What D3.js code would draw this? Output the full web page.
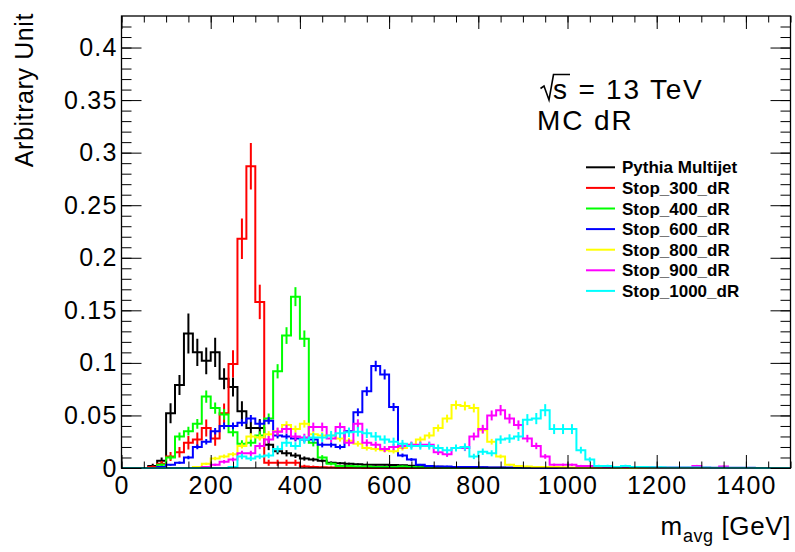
<!DOCTYPE html>
<html>
<head>
<meta charset="utf-8">
<script src="https://cdn.jsdelivr.net/npm/d3@7"></script>
<style>
  html, body { margin: 0; padding: 0; background: #fff; }
  svg { display: block; font-family: "Liberation Sans", Arial, Helvetica, sans-serif; }
</style>
</head>
<body>
<svg id="chart" width="795" height="552"></svg>
<script>
// ---- histogram binning (20 GeV bins from 0 to 1500 GeV) ----
const binWidth = 20;
const xDomain = [0, 1500];
const yDomain = [0, 0.43];

// ---- axis ticks ----
const xTickValues = [0, 200, 400, 600, 800, 1000, 1200, 1400];
const xTickLabels = ["0", "200", "400", "600", "800", "1000", "1200", "1400"];
const xMinorStep = 50;
const yTickValues = [0, 0.05, 0.1, 0.15, 0.2, 0.25, 0.3, 0.35, 0.4];
const yTickLabels = ["0", "0.05", "0.1", "0.15", "0.2", "0.25", "0.3", "0.35", "0.4"];
const yMinorStep = 0.01;

// ---- samples ----
const sampleNames = ["Pythia Multijet", "Stop_300_dR", "Stop_400_dR", "Stop_600_dR",
                     "Stop_800_dR", "Stop_900_dR", "Stop_1000_dR"];
const sampleColors = ["#000000", "#ff0000", "#00ff00", "#0000ff", "#ffff00", "#ff00ff", "#00ffff"];

// normalised bin contents, one entry per 20 GeV bin
const pythiaMultijet = [
  0, 0, 0, 0.002, 0.007, 0.052, 0.079, 0.128, 0.110, 0.102,
  0.110, 0.085, 0.077, 0.054, 0.038, 0.038, 0.022, 0.016, 0.014, 0.012,
  0.009, 0.008, 0.007, 0.005, 0.0045, 0.004, 0.0035, 0.0032, 0.003, 0.003,
  0.0028, 0.0025, 0.0022, 0.002, 0.0016, 0.0012, 0.001, 0.0008, 0.0006, 0.0005,
  0.0004, 0.0003, 0.0002, 0, 0, 0, 0, 0, 0, 0,
  0, 0, 0, 0, 0, 0, 0, 0, 0, 0,
  0, 0, 0, 0, 0, 0, 0, 0, 0, 0,
  0, 0, 0, 0, 0
];
// weighted multijet sample: per-bin statistical uncertainties
const pythiaMultijetErr = [
  0, 0, 0, 0.002, 0.003, 0.0095, 0.0095, 0.019, 0.013, 0.0127,
  0.014, 0.010, 0.009, 0.0095, 0.006, 0.0085, 0.005, 0.003, 0.003, 0.0025,
  0.002, 0.0018, 0.0015, 0.0012, 0.001, 0.001, 0.0008, 0.0008, 0.0007, 0.0007,
  0.0006, 0.0006, 0.0005, 0.0005, 0.0004, 0.0004, 0.0003, 0.0003, 0.0002, 0.0002,
  0.0002, 0.0001, 0.0001, 0, 0, 0, 0, 0, 0, 0,
  0, 0, 0, 0, 0, 0, 0, 0, 0, 0,
  0, 0, 0, 0, 0, 0, 0, 0, 0, 0,
  0, 0, 0, 0, 0
];
const stop300 = [
  0, 0, 0, 0.001, 0.004, 0.011, 0.015, 0.024, 0.027, 0.038,
  0.028, 0.052, 0.099, 0.218, 0.287, 0.158, 0.005, 0.005, 0.005, 0.005,
  0.0015, 0.001, 0.0006, 0.0005, 0.0003, 0.0003, 0.0002, 0, 0, 0,
  0, 0, 0, 0, 0, 0, 0, 0, 0, 0,
  0, 0, 0, 0, 0, 0, 0, 0, 0, 0,
  0, 0, 0, 0, 0, 0, 0, 0, 0, 0,
  0, 0, 0, 0, 0, 0, 0, 0, 0, 0,
  0, 0, 0, 0, 0
];
const stop400 = [
  0, 0, 0, 0, 0.003, 0.010, 0.030, 0.035, 0.042, 0.068,
  0.057, 0.051, 0.034, 0.023, 0.024, 0.031, 0.047, 0.092, 0.126, 0.163,
  0.123, 0.024, 0.010, 0.004, 0.002, 0.002, 0.0015, 0.0015, 0.001, 0.001,
  0.001, 0.0015, 0.001, 0.0008, 0.0005, 0.0005, 0.0003, 0.0003, 0.0002, 0.0002,
  0, 0, 0, 0, 0, 0, 0, 0, 0, 0,
  0, 0, 0, 0, 0, 0, 0, 0, 0, 0,
  0, 0, 0, 0, 0, 0, 0, 0, 0, 0,
  0, 0, 0, 0, 0
];
const stop600 = [
  0, 0, 0, 0, 0.001, 0.003, 0.005, 0.010, 0.020, 0.025,
  0.035, 0.040, 0.040, 0.043, 0.047, 0.042, 0.045, 0.031, 0.030, 0.028,
  0.027, 0.027, 0.022, 0.022, 0.020, 0.035, 0.053, 0.073, 0.097, 0.089,
  0.058, 0.012, 0.008, 0.003, 0.002, 0.0015, 0.0015, 0.001, 0.001, 0.001,
  0.0008, 0.0005, 0.0005, 0.0005, 0.0004, 0.0003, 0, 0, 0, 0,
  0, 0, 0, 0, 0, 0, 0, 0, 0, 0,
  0, 0, 0, 0, 0, 0, 0, 0, 0, 0,
  0, 0, 0, 0, 0
];
const stop800 = [
  0, 0, 0, 0, 0, 0, 0, 0, 0.001, 0.004,
  0.009, 0.011, 0.013, 0.021, 0.030, 0.029, 0.032, 0.035, 0.041, 0.037,
  0.042, 0.032, 0.031, 0.031, 0.028, 0.026, 0.023, 0.019, 0.018, 0.017,
  0.016, 0.019, 0.022, 0.027, 0.031, 0.038, 0.047, 0.060, 0.059, 0.057,
  0.036, 0.025, 0.011, 0.003, 0.002, 0.0015, 0.001, 0.001, 0.001, 0.0008,
  0.0005, 0.0003, 0.0003, 0.0003, 0.0003, 0.0003, 0, 0, 0, 0,
  0, 0, 0, 0, 0, 0, 0, 0, 0, 0,
  0, 0, 0, 0, 0
];
const stop900 = [
  0, 0, 0, 0, 0, 0, 0, 0, 0, 0.001,
  0.003, 0.006, 0.008, 0.014, 0.014, 0.021, 0.027, 0.0345, 0.037, 0.030,
  0.029, 0.039, 0.039, 0.028, 0.039, 0.024, 0.042, 0.024, 0.022, 0.018,
  0.020, 0.021, 0.022, 0.022, 0.022, 0.015, 0.013, 0.019, 0.019, 0.030,
  0.037, 0.050, 0.055, 0.047, 0.041, 0.028, 0.021, 0.011, 0.003, 0.003,
  0.003, 0.002, 0.002, 0.0015, 0.001, 0.001, 0.001, 0.001, 0.0008, 0.0008,
  0.0005, 0.0005, 0.0005, 0.0005, 0.002, 0.0005, 0.0003, 0.0015, 0.0003, 0.0003,
  0.0003, 0, 0, 0, 0
];
const stop1000 = [
  0, 0, 0, 0, 0, 0, 0, 0, 0, 0,
  0, 0, 0.001, 0.011, 0.009, 0.011, 0.012, 0.018, 0.024, 0.021,
  0.027, 0.029, 0.029, 0.031, 0.033, 0.034, 0.0345, 0.033, 0.030, 0.027,
  0.025, 0.023, 0.021, 0.021, 0.021, 0.019, 0.017, 0.019, 0.020, 0.011,
  0.0155, 0.014, 0.027, 0.028, 0.030, 0.046, 0.047, 0.055, 0.037, 0.037,
  0.037, 0.017, 0.008, 0.002, 0.002, 0.001, 0.002, 0.001, 0.001, 0.0008,
  0.0008, 0.0005, 0.0005, 0.0005, 0.0005, 0.0005, 0.0003, 0.0003, 0.0003, 0.0003,
  0.0003, 0, 0, 0, 0
];

// unweighted signal samples: Poisson error sqrt(content * per-event weight)
const signalEventWeights = [0.0017, 0.0005, 0.00026, 0.0003, 0.00045, 0.0006];

const signalValues = [stop300, stop400, stop600, stop800, stop900, stop1000];
const samples = [
  { name: sampleNames[0], color: sampleColors[0], values: pythiaMultijet, errors: pythiaMultijetErr }
].concat(signalValues.map((vals, k) => ({
  name: sampleNames[k + 1],
  color: sampleColors[k + 1],
  values: vals,
  errors: vals.map(v => Math.sqrt(v * signalEventWeights[k]))
})));

// ---- layout ----
const W = 795, H = 552;
const frame = { left: 121.5, right: 790.5, top: 16, bottom: 468 };

const svg = d3.select("#chart");
svg.append("rect").attr("width", W).attr("height", H).attr("fill", "#fff");

const x = d3.scaleLinear().domain(xDomain).range([frame.left, frame.right]);
const y = d3.scaleLinear().domain(yDomain).range([frame.bottom, frame.top]);

svg.append("clipPath").attr("id", "plotClip")
  .append("rect")
  .attr("x", frame.left).attr("y", frame.top - 1)
  .attr("width", frame.right - frame.left)
  .attr("height", frame.bottom - frame.top + 2);

const edges = d3.range(xDomain[0], xDomain[1] + binWidth, binWidth);

// ---- histograms: step outline plus vertical error bars ----
const gHist = svg.append("g").attr("clip-path", "url(#plotClip)");
const stepLine = d3.line()
  .x(d => x(d[0]))
  .y(d => y(d[1]))
  .curve(d3.curveStepAfter);

samples.forEach(s => {
  const g = gHist.append("g");
  const pts = s.values.map((v, i) => [edges[i], v]);
  pts.push([edges[s.values.length], s.values[s.values.length - 1]]);
  g.append("path")
    .attr("d", stepLine(pts))
    .attr("fill", "none")
    .attr("stroke", s.color)
    .attr("stroke-width", 2);

  const bars = s.values
    .map((v, i) => ({ v, e: s.errors[i], c: (edges[i] + edges[i + 1]) / 2 }))
    .filter(d => d.v > 0);
  g.selectAll("line.err")
    .data(bars)
    .join("line")
    .attr("class", "err")
    .attr("x1", d => x(d.c)).attr("x2", d => x(d.c))
    .attr("y1", d => y(Math.max(0, d.v - d.e)))
    .attr("y2", d => y(d.v + d.e))
    .attr("stroke", s.color)
    .attr("stroke-width", 2);
});

// ---- frame and axes (ticks pointing inward on all four sides) ----
const axisStyle = g => {
  g.select(".domain").remove();
  g.selectAll(".tick line").attr("stroke", "#000").attr("stroke-width", 1);
};
const labelStyle = g => g.selectAll("text")
  .attr("fill", "#000").attr("font-size", 25).attr("letter-spacing", 1.2)
  .attr("font-family", "'Liberation Sans', Arial, sans-serif");
const xMinor = d3.range(xDomain[0], xDomain[1] + 1, xMinorStep);
const yMinor = d3.range(0, 43).map(k => k * yMinorStep).filter(v => v <= yDomain[1] + 1e-9);

svg.append("g").attr("transform", `translate(0,${frame.bottom})`)
  .call(d3.axisBottom(x).tickValues(xMinor).tickSize(-6.5).tickFormat(""))
  .call(axisStyle);
svg.append("g").attr("transform", `translate(0,${frame.bottom})`)
  .call(d3.axisBottom(x).tickValues(xTickValues).tickSize(-13).tickPadding(8)
    .tickFormat((d, i) => xTickLabels[i]))
  .call(axisStyle)
  .call(labelStyle);
svg.append("g").attr("transform", `translate(0,${frame.top})`)
  .call(d3.axisTop(x).tickValues(xMinor).tickSize(-6.5).tickFormat(""))
  .call(axisStyle);
svg.append("g").attr("transform", `translate(0,${frame.top})`)
  .call(d3.axisTop(x).tickValues(xTickValues).tickSize(-13).tickFormat(""))
  .call(axisStyle);

svg.append("g").attr("transform", `translate(${frame.left},0)`)
  .call(d3.axisLeft(y).tickValues(yMinor).tickSize(-10).tickFormat(""))
  .call(axisStyle);
svg.append("g").attr("transform", `translate(${frame.left},0)`)
  .call(d3.axisLeft(y).tickValues(yTickValues).tickSize(-20).tickPadding(4)
    .tickFormat((d, i) => yTickLabels[i]))
  .call(axisStyle)
  .call(labelStyle);
svg.append("g").attr("transform", `translate(${frame.right},0)`)
  .call(d3.axisRight(y).tickValues(yMinor).tickSize(-10).tickFormat(""))
  .call(axisStyle);
svg.append("g").attr("transform", `translate(${frame.right},0)`)
  .call(d3.axisRight(y).tickValues(yTickValues).tickSize(-20).tickFormat(""))
  .call(axisStyle);

svg.append("rect")
  .attr("x", frame.left).attr("y", frame.top)
  .attr("width", frame.right - frame.left).attr("height", frame.bottom - frame.top)
  .attr("fill", "none").attr("stroke", "#000").attr("stroke-width", 1.3);

// ---- axis titles ----
svg.append("text")
  .attr("transform", `translate(33,13) rotate(-90)`)
  .attr("text-anchor", "end")
  .attr("font-size", 25).attr("letter-spacing", 0.6)
  .text("Arbitrary Unit");

const xTitle = svg.append("text")
  .attr("x", 791).attr("y", 535)
  .attr("text-anchor", "end")
  .attr("font-size", 26).attr("letter-spacing", 0.6);
xTitle.append("tspan").text("m");
xTitle.append("tspan").attr("font-size", 18).attr("dy", 7).text("avg");
xTitle.append("tspan").attr("dy", -7).text(" [GeV]");

// ---- energy and selection labels ----
const gLabel = svg.append("g");
gLabel.append("path")
  .attr("d", "M540.5,88.5 L544,86 L549,100 L553.5,74.5 L570,74.5")
  .attr("fill", "none").attr("stroke", "#000").attr("stroke-width", 1.6);
gLabel.append("text")
  .attr("x", 553).attr("y", 99)
  .attr("font-size", 28).attr("letter-spacing", 1.8)
  .text("s = 13 TeV");
gLabel.append("text")
  .attr("x", 537).attr("y", 130)
  .attr("font-size", 28).attr("letter-spacing", 1.9)
  .text("MC dR");

// ---- legend ----
const legend = svg.append("g");
const legendRow = legend.selectAll("g")
  .data(samples)
  .join("g")
  .attr("transform", (d, i) => `translate(0,${167.3 + i * 20.6})`);
legendRow.append("line")
  .attr("x1", 586).attr("x2", 615)
  .attr("stroke", d => d.color).attr("stroke-width", 2);
legendRow.append("text")
  .attr("x", 622).attr("dy", "0.36em")
  .attr("font-size", 17).attr("font-weight", "bold")
  .text(d => d.name);
</script>
</body>
</html>
